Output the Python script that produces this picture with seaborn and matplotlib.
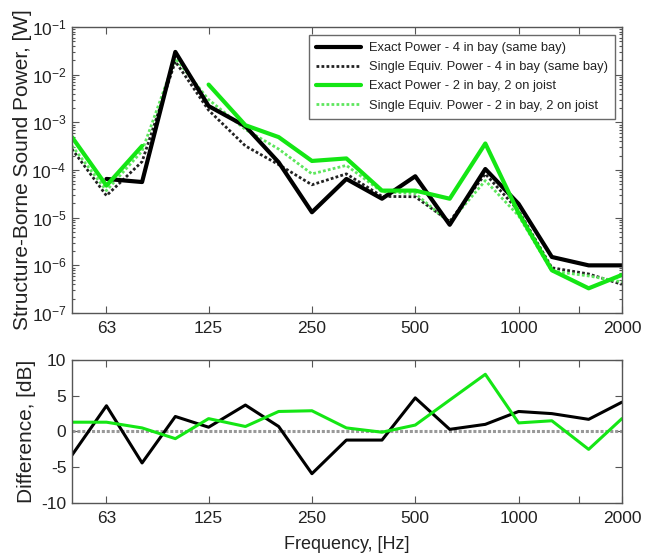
import numpy as np
import matplotlib
matplotlib.use("Agg")
import matplotlib.pyplot as plt
from matplotlib.lines import Line2D
from matplotlib.ticker import FixedLocator, NullFormatter, LogLocator
import seaborn as sns

# One-third octave band centre frequencies, Hz
freqs = [50, 63, 80, 100, 125, 160, 200, 250, 315, 400, 500, 630, 800,
         1000, 1250, 1600, 2000]

# Structure-borne sound power, W
exact_4_in_bay = [np.nan, 6.5e-5, 5.6e-5, 3.0e-2, 2.2e-3, 8.3e-4, 1.45e-4,
                  1.3e-5, 6.5e-5, 2.5e-5, 7.4e-5, 7.1e-6, 1.05e-4, 1.95e-5,
                  1.5e-6, 1.0e-6, 1.0e-6]
single_4_in_bay = [2.75e-4, 2.9e-5, 1.5e-4, 1.9e-2, 1.8e-3, 3.2e-4, 1.3e-4,
                   4.9e-5, 8.3e-5, 2.8e-5, 2.75e-5, 8.3e-6, 8.3e-5, 1.4e-5,
                   8.9e-7, 6.6e-7, 4.0e-7]
exact_2_bay_2_joist = [4.9e-4, 4.7e-5, 3.2e-4, np.nan, 6.2e-3, 8.7e-4, 4.9e-4,
                       1.55e-4, 1.75e-4, 3.7e-5, 3.7e-5, 2.5e-5, 3.6e-4,
                       1.25e-5, 7.9e-7, 3.3e-7, 6.3e-7]
single_2_bay_2_joist = [3.2e-4, 3.7e-5, 2.5e-4, 2.2e-2, 3.0e-3, 7.1e-4, 2.75e-4,
                        8.3e-5, 1.25e-4, 3.5e-5, 3.2e-5, 7.9e-6, 6.0e-5,
                        1.1e-5, 7.6e-7, 6.0e-7, 4.5e-7]

# Level difference, dB
diff_4_in_bay = [-3.3, 3.6, -4.4, 2.1, 0.6, 3.7, 0.7, -5.9, -1.2, -1.2, 4.7,
                 0.3, 1.0, 2.8, 2.5, 1.7, 4.1]
diff_2_bay_2_joist = [1.3, 1.3, 0.5, -1.0, 1.8, 0.7, 2.8, 2.9, 0.5, -0.1, 0.9,
                      4.4, 8.0, 1.2, 1.5, -2.5, 1.8]

series_labels = ["Exact Power - 4 in bay (same bay)",
                 "Single Equiv. Power - 4 in bay (same bay)",
                 "Exact Power - 2 in bay, 2 on joist",
                 "Single Equiv. Power - 2 in bay, 2 on joist"]
freq_ticks = [63, 125, 250, 500, 1000, 2000]
freq_ticklabels = ["63", "125", "250", "500", "1000", "2000"]
diff_ticks = [-10, -5, 0, 5, 10]

sns.set_theme(style="ticks")
plt.rcParams["font.family"] = ["Liberation Sans", "DejaVu Sans"]
plt.rcParams["mathtext.default"] = "regular"

GREEN = "#14e614"
GREEN_LIGHT = "#5ee65e"
SPINE = "#555555"
TEXT = "#222222"

fig = plt.figure(figsize=(6.57, 5.59), dpi=100)
ax1 = fig.add_axes([0.1096, 0.440, 0.837, 0.5117])
ax2 = fig.add_axes([0.1096, 0.1002, 0.837, 0.2558])

styles = [
    dict(color="black", lw=3.0, ls="-"),
    dict(color="#222222", lw=2.0, ls=(0, (1, 0.8))),
    dict(color=GREEN, lw=3.0, ls="-"),
    dict(color=GREEN_LIGHT, lw=2.0, ls=(0, (1, 0.8))),
]


def draw_segments(ax, x, y, style):
    """Draw a series as separate runs, leaving gaps where values are missing."""
    x = np.asarray(x, float)
    y = np.asarray(y, float)
    ok = ~np.isnan(y)
    start = None
    for i in range(len(y) + 1):
        if i < len(y) and ok[i]:
            if start is None:
                start = i
        elif start is not None:
            sns.lineplot(x=x[start:i], y=y[start:i], ax=ax, color=style["color"],
                         linewidth=style["lw"], linestyle=style["ls"],
                         legend=False, estimator=None, sort=False)
            start = None


ax1.set_xscale("log")
ax1.set_yscale("log")
power_series = [exact_4_in_bay, single_4_in_bay, exact_2_bay_2_joist,
                single_2_bay_2_joist]
# dotted lines underneath the solid ones
for idx in [1, 3, 0, 2]:
    draw_segments(ax1, freqs, power_series[idx], styles[idx])

ax2.set_xscale("log")
ax2.axhline(0, color="#999999", lw=2.2, ls=(0, (1, 0.6)), zorder=1)
sns.lineplot(x=freqs, y=diff_4_in_bay, ax=ax2, color="black", linewidth=2.2,
             legend=False)
sns.lineplot(x=freqs, y=diff_2_bay_2_joist, ax=ax2, color=GREEN, linewidth=2.2,
             legend=False)

for ax in (ax1, ax2):
    ax.set_xlim(50, 2000)
    ax.xaxis.set_major_locator(FixedLocator(freq_ticks))
    ax.set_xticklabels(freq_ticklabels)
    ax.xaxis.set_minor_locator(FixedLocator([1500]))
    ax.xaxis.set_minor_formatter(NullFormatter())
    ax.tick_params(axis="both", which="both", direction="in", top=True,
                   right=True, colors=SPINE, labelcolor=TEXT,
                   labelsize=12.5, width=0.8)
    ax.tick_params(axis="x", which="both", length=5, pad=6)
    ax.tick_params(axis="y", which="major", length=5, pad=4)
    for sp in ax.spines.values():
        sp.set_color(SPINE)
        sp.set_linewidth(1.0)
    ax.set_xlabel("")
    ax.set_ylabel("")

ax1.set_ylim(1e-7, 1e-1)
ax1.yaxis.set_major_locator(LogLocator(base=10, numticks=10))
ax1.yaxis.set_minor_locator(LogLocator(base=10, subs=np.arange(2, 10),
                                       numticks=20))
ax1.yaxis.set_minor_formatter(NullFormatter())
ax1.tick_params(axis="y", which="minor", length=2.5)

ax2.set_ylim(-10, 10)
ax2.set_yticks(diff_ticks)
ax2.set_yticklabels([str(v) for v in diff_ticks])

ax1.set_ylabel("Structure-Borne Sound Power, [W]", fontsize=15, color=TEXT)
ax1.yaxis.set_label_coords(-0.072, 0.5)
ax2.set_ylabel("Difference, [dB]", fontsize=15, color=TEXT)
ax2.yaxis.set_label_coords(-0.066, 0.5)
ax2.set_xlabel("Frequency, [Hz]", fontsize=13, color=TEXT, labelpad=7)

handles = [Line2D([], [], color=s["color"], lw=s["lw"], ls=s["ls"])
           for s in styles]
leg = ax1.legend(handles, series_labels, loc="upper right",
                 bbox_to_anchor=(0.987, 0.972), borderaxespad=0,
                 fontsize=9.3, frameon=True, fancybox=False,
                 handlelength=3.5, handletextpad=0.6, labelspacing=0.55,
                 borderpad=0.55)
leg.get_frame().set_edgecolor("#444444")
leg.get_frame().set_linewidth(1.0)
for t in leg.get_texts():
    t.set_color(TEXT)

fig.savefig("out.png", dpi=100)
